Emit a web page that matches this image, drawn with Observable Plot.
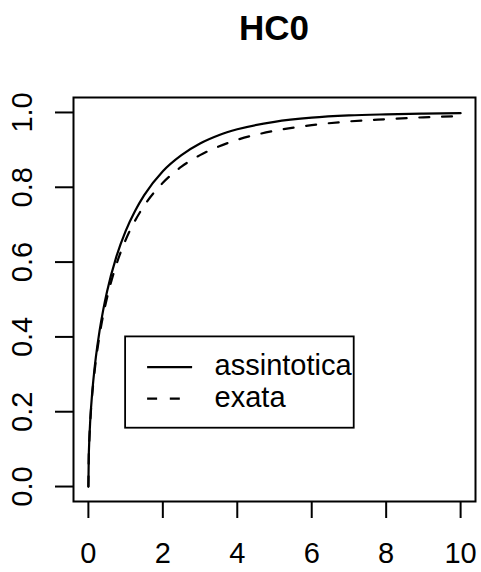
<!DOCTYPE html>
<html>
<head>
<meta charset="utf-8">
<script src="https://cdn.jsdelivr.net/npm/d3@7"></script>
<script src="https://cdn.jsdelivr.net/npm/@observablehq/plot@0.6"></script>
<style>
  html, body { margin: 0; padding: 0; background: white; }
  #wrap { position: relative; width: 481px; height: 572px; font-family: "Liberation Sans", Arial, Helvetica, sans-serif; }
  #title { position: absolute; left: 73px; width: 402px; top: 10px; height: 50px; text-align: center;
           font-size: 35px; line-height: 35px; font-weight: bold; color: black; }
  #chart { position: absolute; left: 0; top: 60px; }
</style>
</head>
<body>
<div id="wrap">
  <div id="title">HC0</div>
  <div id="chart"></div>
</div>
<script>
// ---- data ----
const xs          = [0, 0.01, 0.02, 0.05, 0.1, 0.15, 0.2, 0.3, 0.4, 0.5, 0.75, 1, 1.25, 1.5, 2, 2.5, 3, 3.5, 4, 5, 6, 7, 8, 9, 10];
const assintotica = [0, 0.080, 0.112, 0.177, 0.248, 0.301, 0.345, 0.416, 0.473, 0.521, 0.614, 0.683, 0.736, 0.779, 0.843, 0.886, 0.917, 0.939, 0.955, 0.975, 0.986, 0.992, 0.995, 0.997, 0.998];
const exata       = [0, 0.078, 0.110, 0.173, 0.243, 0.293, 0.336, 0.404, 0.459, 0.504, 0.593, 0.659, 0.710, 0.751, 0.812, 0.855, 0.886, 0.909, 0.927, 0.951, 0.966, 0.976, 0.982, 0.987, 0.990];
const xTicks      = [0, 2, 4, 6, 8, 10];
const yTicks      = [0, 0.2, 0.4, 0.6, 0.8, 1.0];
const seriesNames = ["assintotica", "exata"];
const legendAt    = [1, 0.4];

const table = xs.map((x, i) => ({x, assintotica: assintotica[i], exata: exata[i]}));

const font = '"Liberation Sans", Arial, Helvetica, sans-serif';
const dash = "10,12.7";

const plot = Plot.plot({
  width: 481,
  height: 512,
  marginLeft: 73,
  marginRight: 6,
  marginTop: 37,
  marginBottom: 71,
  x: {domain: [-0.4, 10.4]},
  y: {domain: [-0.04, 1.04]},
  style: {fontFamily: font, fontSize: "29px", color: "black", background: "white"},
  marks: [
    Plot.axisX({ticks: xTicks, tickFormat: d => String(d), tickSize: 17, tickPadding: 24, strokeWidth: 2, fontSize: 29, label: null}),
    Plot.axisY({ticks: yTicks, tickFormat: () => "", tickSize: 18, strokeWidth: 2, label: null}),
    Plot.axisY({ticks: yTicks, tickFormat: d3.format(".1f"), tickSize: 0, tickPadding: 51, fontSize: 29, rotate: -90, textAnchor: "middle", label: null}),
    Plot.line(table, {x: "x", y: "assintotica", stroke: "black", strokeWidth: 2.2, curve: "monotone-x"}),
    Plot.line(table, {x: "x", y: "exata", stroke: "black", strokeWidth: 2.2, strokeDasharray: dash, curve: "monotone-x"}),
    Plot.frame({stroke: "black", strokeWidth: 2})
  ]
});
document.getElementById("chart").appendChild(plot);

// ---- legend placed via the chart's scales ----
const sx = plot.scale("x"), sy = plot.scale("y");
const lx = sx.apply(legendAt[0]), ly = sy.apply(legendAt[1]);
const svg = d3.select(plot);
const g = svg.append("g").attr("transform", `translate(${lx},${ly})`);
g.append("rect").attr("x", 0).attr("y", 0).attr("width", 228.6).attr("height", 91.3)
  .attr("fill", "white").attr("stroke", "black").attr("stroke-width", 1.8);
const rows = [{name: seriesNames[0], dash: null, y: 30.7}, {name: seriesNames[1], dash: dash, y: 62.3}];
rows.forEach(r => {
  g.append("line").attr("x1", 22).attr("x2", 67).attr("y1", r.y).attr("y2", r.y)
    .attr("stroke", "black").attr("stroke-width", 2.2).attr("stroke-dasharray", r.dash);
  g.append("text").attr("x", 89.5).attr("y", r.y + 8.3)
    .style("font-size", "29px").style("font-family", font).style("text-anchor", "start")
    .attr("fill", "black").text(r.name);
});
</script>
</body>
</html>
